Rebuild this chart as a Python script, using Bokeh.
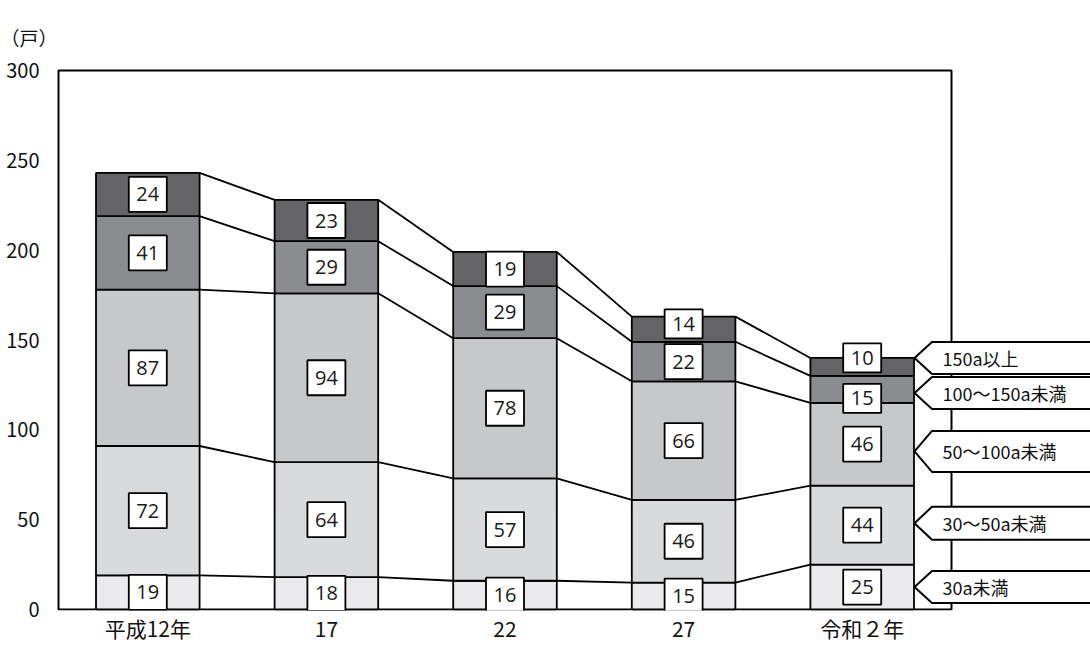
from bokeh.plotting import figure
from bokeh.models import ColumnDataSource, FixedTicker, Range1d
from bokeh.core.properties import value
from bokeh.embed import file_html
from bokeh.resources import INLINE

# ---------------- data ----------------
categories = ["平成12年", "17", "22", "27", "令和２年"]
series_names = ["30a未満", "30～50a未満", "50～100a未満", "100～150a未満", "150a以上"]
s_under30 = [19, 18, 16, 15, 25]
s_30_50 = [72, 64, 57, 46, 44]
s_50_100 = [87, 94, 78, 66, 46]
s_100_150 = [41, 29, 29, 22, 15]
s_over150 = [24, 23, 19, 14, 10]
y_ticks = [0, 50, 100, 150, 200, 250, 300]
unit_label = "（戸）"

series = [s_under30, s_30_50, s_50_100, s_100_150, s_over150]

# ---------------- style / layout ----------------
colors = ["#ebebed", "#d9dadc", "#c7c8ca", "#8b8c90", "#646466"]
BAR_W = 0.58
W, H = 1090, 646
BOX_L, BOX_R, BOX_T, BOX_B = 58, 951, 70, 609      # plot box in canvas px
PX_X = (BOX_R - BOX_L) / 5.0
PX_Y = (BOX_B - BOX_T) / 300.0
PAD_L, PAD_T, PAD_B = 2, 2, 1                         # frame padding around box
JP = "Noto Sans CJK JP"
NUM = "Open Sans"
LW = 1.8

# label nudges (value units) for crowded segments: (series, category) -> dy
label_nudge = {(4, 3): 3, (4, 4): 5, (3, 4): -5}
# legend callouts: tip offset from last-bar segment centre (value units), half height (px)
legend_nudge = [0, 1, -4, -2, 5]
legend_half_px = [16, 16.5, 20.5, 16, 16]

x_start = -0.5 - PAD_L / PX_X
x_end = 4.5 + (W - BOX_R) / PX_X
y_start = -PAD_B / PX_Y
y_end = 300 + PAD_T / PX_Y

p = figure(width=W, height=H, x_range=Range1d(x_start, x_end), y_range=Range1d(y_start, y_end),
           output_backend="svg", toolbar_location=None,
           min_border_left=BOX_L - PAD_L, min_border_right=0,
           min_border_top=BOX_T - PAD_T, min_border_bottom=H - BOX_B - PAD_B,
           title=unit_label)
p.outline_line_color = None
p.xgrid.visible = False
p.ygrid.visible = False
p.background_fill_color = "white"
p.border_fill_color = "white"

p.title.align = "left"
p.title.offset = -(BOX_L - PAD_L)
p.title.text_font = JP
p.title.text_font_size = "19px"
p.title.text_font_style = "normal"
p.title.text_color = "#111111"
p.title.standoff = 36

# axes
xs_idx = list(range(len(categories)))
p.xaxis.ticker = FixedTicker(ticks=xs_idx)
p.xaxis.major_label_overrides = {i: c for i, c in zip(xs_idx, categories)}
p.yaxis.ticker = FixedTicker(ticks=y_ticks)
for ax in (p.xaxis[0], p.yaxis[0]):
    ax.axis_line_color = None
    ax.major_tick_line_color = None
    ax.minor_tick_line_color = None
    ax.major_tick_in = 0
    ax.major_tick_out = 0
    ax.minor_tick_in = 0
    ax.minor_tick_out = 0
    ax.major_label_text_font = JP
    ax.major_label_text_color = "#111111"
p.xaxis.major_label_text_font_size = "21px"
p.xaxis.major_label_standoff = 2
p.yaxis.major_label_text_font_size = "20px"
p.yaxis.major_label_standoff = 17

# plot box
p.quad(left=[-0.5], right=[4.5], bottom=[0], top=[300], fill_color=None,
       line_color="black", line_width=2)

# stacked bars
src = ColumnDataSource(dict(x=xs_idx, **{f"s{k}": v for k, v in enumerate(series)}))
p.vbar_stack([f"s{k}" for k in range(len(series))], x="x", width=BAR_W, source=src,
             fill_color=colors, line_color="black", line_width=LW)

# cumulative tops
cum = []
run = [0] * len(categories)
for s in series:
    run = [a + b for a, b in zip(run, s)]
    cum.append(run)

# connector lines between bars
x0s, y0s, x1s, y1s = [], [], [], []
for k in range(len(series)):
    for i in range(len(categories) - 1):
        x0s.append(i + BAR_W / 2)
        y0s.append(cum[k][i])
        x1s.append(i + 1 - BAR_W / 2)
        y1s.append(cum[k][i + 1])
p.segment(x0=x0s, y0=y0s, x1=x1s, y1=y1s, line_color="black", line_width=LW)

# value labels in boxes
lx, ly, lt, lh = [], [], [], []
for k, s in enumerate(series):
    for i, v in enumerate(s):
        bottom = cum[k][i] - v
        lx.append(i)
        ly.append(bottom + v / 2 + label_nudge.get((k, i), 0))
        lt.append(str(v))
        lh.append(29 if (k >= 3 and v < 16) else 35)
lsrc = ColumnDataSource(dict(x=lx, y=ly, t=lt, h=lh))
p.rect(x="x", y="y", width=38, height="h", width_units="screen", height_units="screen",
       source=lsrc, fill_color="white", line_color="black", line_width=LW)
p.text(x="x", y="y", text="t", source=lsrc, text_align="center", text_baseline="middle",
       text_font=value(NUM), text_font_size="20px", text_color="#1a1a1a")

# legend callouts (pointing at the last bar)
last = len(categories) - 1
tip_x = last + BAR_W / 2 + 0.5 / PX_X
body_x = tip_x + 17.5 / PX_X
far_x = x_end + 0.3
cxs, cys, tx, ty, tt = [], [], [], [], []
for k in range(len(series)):
    seg_c = cum[k][last] - series[k][last] / 2 + legend_nudge[k]
    hh = legend_half_px[k] / PX_Y
    cxs.append([tip_x, body_x, far_x, far_x, body_x])
    cys.append([seg_c, seg_c + hh, seg_c + hh, seg_c - hh, seg_c - hh])
    tx.append(tip_x + 28 / PX_X)
    ty.append(seg_c)
    tt.append(series_names[k])
p.patches(xs=cxs, ys=cys, fill_color="white", line_color="black", line_width=2)
p.text(x=tx, y=ty, text=tt, text_align="left", text_baseline="middle",
       text_font=value(JP), text_font_size="18px", text_color="#111111")

open("out.html", "w").write(file_html(p, INLINE))
